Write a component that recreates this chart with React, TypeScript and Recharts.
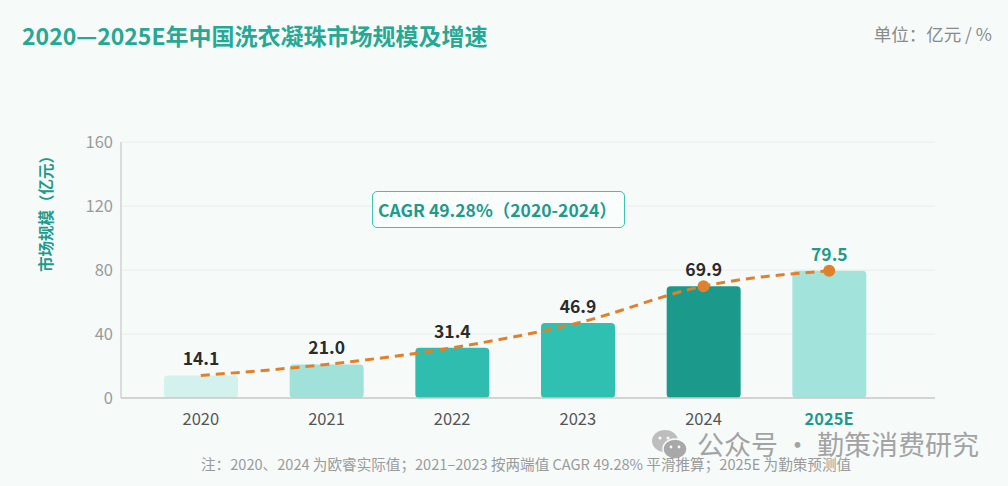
import {
  ComposedChart,
  Bar,
  Line,
  XAxis,
  YAxis,
  CartesianGrid,
  Cell,
  LabelList,
} from "recharts";

const years = ["2020", "2021", "2022", "2023", "2024", "2025E"];
const marketSize = [14.1, 21.0, 31.4, 46.9, 69.9, 79.5];
const barColors = ["#d3f2ee", "#a0e2da", "#2fbdaf", "#30c0b2", "#1b9a8c", "#a2e3db"];
const yTicks = [0, 40, 80, 120, 160];

const data = years.map((year, i) => ({ year, value: marketSize[i] }));

const FONT = '"Noto Sans CJK SC", "Noto Sans", sans-serif';
const TEAL = "#1f9a8c";
const ORANGE = "#e0802c";

const XTick = ({ x, y, payload }) => {
  const isEst = payload.value === "2025E";
  return (
    <text
      x={x}
      y={y}
      dy={19}
      textAnchor="middle"
      fontSize={16.5}
      fontFamily={FONT}
      fontWeight={isEst ? 700 : 400}
      fill={isEst ? TEAL : "#555"}
    >
      {payload.value}
    </text>
  );
};

const ValueLabel = ({ x, y, width, value, index }) => (
  <text
    x={x + width / 2}
    y={y - 10}
    textAnchor="middle"
    fontSize={17.5}
    fontWeight={700}
    fontFamily={FONT}
    fill={index === 5 ? TEAL : "#2b2b2b"}
  >
    {Number(value).toFixed(1)}
  </text>
);

const TrendDot = ({ cx, cy, index }) =>
  index >= 4 ? (
    <circle key={index} cx={cx} cy={cy} r={6} fill={ORANGE} />
  ) : (
    <g key={index} />
  );

export default function App() {
  return (
    <div
      style={{
        position: "absolute",
        left: 0,
        top: 0,
        width: 1008,
        height: 486,
        background: "#f6fbfa",
        fontFamily: FONT,
        overflow: "hidden",
      }}
    >
      <div
        style={{
          position: "absolute",
          left: 22,
          top: 18,
          fontSize: 23,
          fontWeight: 700,
          color: "#27a894",
          whiteSpace: "nowrap",
        }}
      >
        2020—2025E年中国洗衣凝珠市场规模及增速
      </div>
      <div
        style={{
          position: "absolute",
          right: 16,
          top: 21,
          fontSize: 17.5,
          color: "#8a8a8a",
        }}
      >
        单位：亿元 / %
      </div>

      <ComposedChart
        width={1008}
        height={486}
        data={data}
        margin={{ top: 142, right: 73, bottom: 58, left: 60 }}
      >
        <CartesianGrid vertical={false} stroke="#ececec" />
        <XAxis
          dataKey="year"
          padding={{ left: 17, right: 43 }}
          axisLine={{ stroke: "#c8c8c8", strokeWidth: 1.5 }}
          tickLine={false}
          tick={<XTick />}
          height={30}
        />
        <YAxis
          width={61}
          domain={[0, 160]}
          ticks={yTicks}
          axisLine={{ stroke: "#d0d0d0", strokeWidth: 1.5 }}
          tickLine={false}
          tick={{ fill: "#9a9a9a", fontSize: 16.5, fontFamily: FONT }}
        />
        <Bar dataKey="value" barSize={74} radius={4} isAnimationActive={false}>
          {data.map((d, i) => (
            <Cell key={d.year} fill={barColors[i]} />
          ))}
          <LabelList dataKey="value" content={<ValueLabel />} />
        </Bar>
        <Line
          type="monotone"
          dataKey="value"
          stroke={ORANGE}
          strokeWidth={3}
          strokeDasharray="9 6"
          dot={<TrendDot />}
          activeDot={false}
          isAnimationActive={false}
        />
      </ComposedChart>

      <div
        style={{
          position: "absolute",
          left: 45,
          top: 210,
          transform: "translate(-50%, -50%) rotate(-90deg)",
          fontSize: 15.5,
          fontWeight: 700,
          color: TEAL,
          whiteSpace: "nowrap",
        }}
      >
        市场规模（亿元）
      </div>

      <div
        style={{
          position: "absolute",
          left: 372,
          top: 191,
          width: 246,
          height: 35,
          border: "1.5px solid #3cc3b3",
          borderRadius: 5,
          background: "#f9fdfc",
          color: TEAL,
          fontSize: 17.5,
          fontWeight: 700,
          lineHeight: "35px",
          paddingLeft: 5,
          boxSizing: "content-box",
          whiteSpace: "nowrap",
        }}
      >
        CAGR 49.28%（2020-2024）
      </div>

      <div
        style={{
          position: "absolute",
          left: 650,
          top: 427,
          display: "flex",
          alignItems: "center",
          gap: 7,
          color: "#a3a3a3",
          fontSize: 27,
          lineHeight: "34px",
          whiteSpace: "nowrap",
        }}
      >
        <svg width={40} height={34} viewBox="0 0 38 34">
          <ellipse cx={14} cy={14} rx={13} ry={11} fill="#bdbdbd" />
          <ellipse cx={24} cy={22} rx={12} ry={10} fill="#a8a8a8" stroke="#f6fbfa" strokeWidth={1.5} />
          <circle cx={9} cy={11} r={1.6} fill="#f6fbfa" />
          <circle cx={17} cy={11} r={1.6} fill="#f6fbfa" />
          <circle cx={20} cy={20} r={1.4} fill="#f6fbfa" />
          <circle cx={28} cy={20} r={1.4} fill="#f6fbfa" />
        </svg>
        <span>公众号 · 勤策消费研究</span>
      </div>

      <div
        style={{
          position: "absolute",
          left: 201,
          top: 453,
          fontSize: 14.6,
          color: "#9a9a9a",
          whiteSpace: "nowrap",
        }}
      >
        注：2020、2024 为欧睿实际值；2021–2023 按两端值 CAGR 49.28% 平滑推算；2025E 为勤策预测值
      </div>
    </div>
  );
}
